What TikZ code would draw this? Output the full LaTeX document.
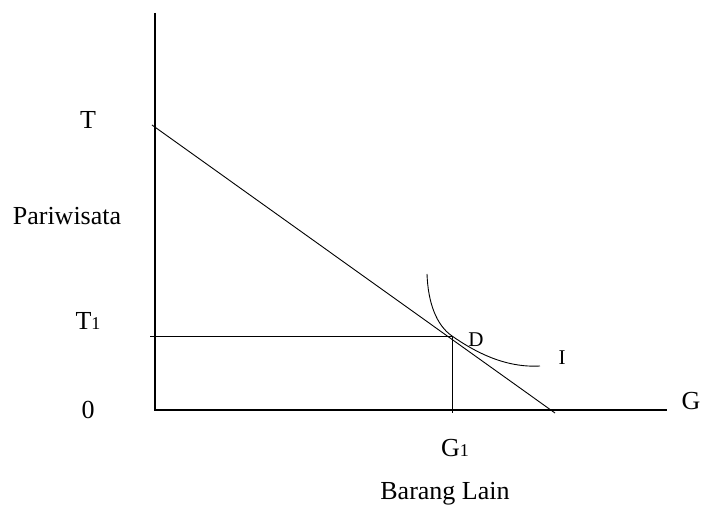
\documentclass[tikz,border=0pt]{standalone}
\usepackage{fontspec}
\setmainfont{Liberation Serif}
\usepackage{tikz}
\usetikzlibrary{positioning,calc}
\newcommand{\idx}[1]{{\fontsize{9}{9}\selectfont #1}}
\tikzset{
  lbl/.style={anchor=base,inner sep=0pt,font=\fontsize{13}{15}\selectfont},
  smalllbl/.style={anchor=base,inner sep=0pt,font=\fontsize{10.5}{12}\selectfont},
  axis/.style={line width=0.65pt},
  guide/.style={line width=0.45pt}
}
\begin{document}
\begin{tikzpicture}[x=0.5pt,y=-0.5pt]
        \useasboundingbox (0,0) rectangle (701,506);
        % axes
        \coordinate (O) at (155,410);
        \coordinate (ytop) at (155,13);
        \coordinate (xend) at (667,410);
        \draw[axis] (ytop)--(O)--(xend);
        % budget line
        \coordinate (A) at (152,125);
        \coordinate (B) at (555,413);
        \draw[guide] (A)--(B);
        % optimum and its projections
        \coordinate (Dpt) at (452,336);
        \coordinate (T1pt) at (150,336);
        \coordinate (G1pt) at (452,413);
        \draw[guide] (T1pt)--(Dpt)--(G1pt);
        % indifference curve
        \coordinate (Istart) at (427,274);
        \coordinate (Iend) at (540,366);
        \draw[guide] (Istart) .. controls (428,302) and (436,325) .. (Dpt)
          .. controls (475,352) and (505,368) .. (Iend);
        % labels
        \node[lbl] (T) at (88,129) {T};
        \node[lbl] (pari) at (67,225) {Pariwisata};
        \node[lbl] (T1) at (88,330) {T\idx{1}};
        \node[lbl] (zero) at (88,419) {0};
        \node[lbl] (G) at (691,410) {G};
        \node[lbl] (G1) at (455,457) {G\idx{1}};
        \node[lbl] (barang) at (445,500) {Barang Lain};
        \node[smalllbl] (D) at (476,347) {D};
        \node[smalllbl] (I) at (562,365) {I};
      \end{tikzpicture}
\end{document}
